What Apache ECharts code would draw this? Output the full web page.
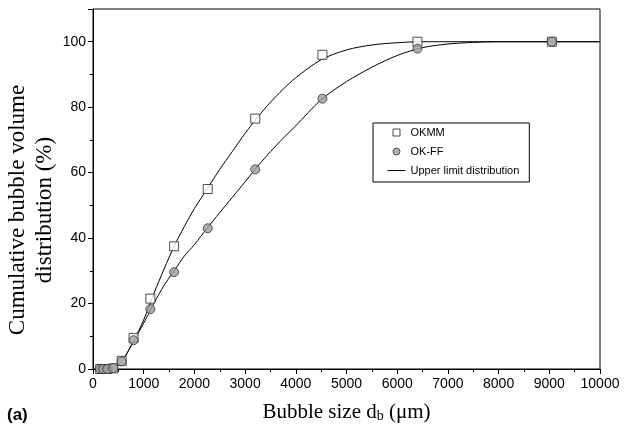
<!DOCTYPE html>
<html>
<head>
<meta charset="utf-8">
<script src="https://cdn.jsdelivr.net/npm/echarts@6/dist/echarts.min.js"></script>
<style>
  html, body { margin: 0; padding: 0; background: #fff; }
  #chart { width: 624px; height: 429px; }
</style>
</head>
<body>
<div id="chart"></div>
<script>
// measured bubble sizes (um), sqrt(2) classes
const bubbleSizes = [141, 200, 283, 400, 566, 800, 1131, 1600, 2263, 3200, 4525, 6400, 9051];
const okmmValues  = [0, 0, 0, 0.2, 2.5, 9.5, 21.5, 37.5, 55, 76.5, 96, 100, 100];
const okffValues  = [0, 0, 0, 0.3, 2.3, 8.8, 18.3, 29.6, 43, 61, 82.6, 97.9, 100];

// upper limit distribution curves
const okmmFitX = [300, 400, 500, 600, 800, 1000, 1200, 1400, 1600, 1800, 2000, 2250, 2500, 2750, 3000, 3250, 3500, 3750, 4000, 4500, 5000, 5500, 6000, 6500, 10000];
const okmmFitY = [0, 0.5, 1.5, 3, 8.5, 15, 23, 30.5, 37.5, 43.5, 49, 55, 61, 66.5, 72, 77, 81.5, 85.5, 89, 94.5, 97.5, 99, 99.7, 100, 100];
const okffFitX = [300, 400, 500, 600, 800, 1000, 1200, 1400, 1600, 1800, 2000, 2250, 2500, 2750, 3000, 3250, 3500, 3750, 4000, 4500, 5000, 5500, 6000, 6500, 7000, 7500, 8000, 10000];
const okffFitY = [0, 0.5, 1.5, 3, 8.5, 14, 20, 25.5, 30, 34.5, 38, 43, 47.8, 52.5, 57.2, 62, 66.4, 70.5, 74.3, 82.3, 87.8, 92.2, 95.8, 98.2, 99.3, 99.8, 100, 100];

const pairs = (xs, ys) => xs.map((x, i) => [x, ys[i]]);

const chart = echarts.init(document.getElementById('chart'));

const sansFont = '"Liberation Sans", Arial, sans-serif';
const serifFont = '"Liberation Serif", "Times New Roman", serif';

const option = {
    animation: false,
    grid: {
        left: 93, right: 24, top: 9, bottom: 60,
        show: true, borderColor: '#000', borderWidth: 1,
        outerBoundsMode: 'none'
    },
    legend: {
        orient: 'vertical',
        left: 373, top: 123,
        padding: [4, 10, 6, 14],
        itemGap: 8,
        itemWidth: 18, itemHeight: 7,
        borderColor: '#000', borderWidth: 1,
        backgroundColor: '#fff',
        textStyle: { fontFamily: sansFont, fontSize: 11, color: '#000' },
        data: [
            { name: 'OKMM', icon: 'path://M0,0M18,7M5.5,0H12.5V7H5.5Z', itemStyle: { borderWidth: 1, borderColor: '#222' } },
            { name: 'OK-FF', icon: 'circle', itemStyle: { borderWidth: 1, borderColor: '#333' } },
            { name: 'Upper limit distribution', icon: 'path://M0,3H18V4H0Z' }
        ]
    },
    xAxis: {
        type: 'value',
        min: 0, max: 10000, interval: 1000,
        name: 'Bubble size d{sub|b} (μm)',
        nameLocation: 'middle',
        nameGap: 32,
        nameTextStyle: {
            fontFamily: serifFont, fontSize: 21, color: '#000',
            rich: { sub: { fontFamily: serifFont, fontSize: 14, verticalAlign: 'bottom', padding: [8, 0, 0, 0] } }
        },
        axisLine: { lineStyle: { color: '#000', width: 1 } },
        axisTick: { show: true, inside: false, length: 5, lineStyle: { color: '#000' } },
        minorTick: { show: true, splitNumber: 2, length: 3, lineStyle: { color: '#000' } },
        axisLabel: {
            fontFamily: sansFont, fontSize: 14, color: '#000', margin: 8,
            formatter: v => String(v)
        },
        splitLine: { show: false }
    },
    yAxis: {
        type: 'value',
        min: 0, max: 110, interval: 20,
        axisLine: { show: true, lineStyle: { color: '#000', width: 1 } },
        axisTick: { show: true, inside: false, length: 5, lineStyle: { color: '#000' } },
        minorTick: { show: true, splitNumber: 2, length: 3, lineStyle: { color: '#000' } },
        axisLabel: {
            fontFamily: sansFont, fontSize: 14, color: '#000', margin: 7,
            formatter: v => (v > 100 ? '' : String(v))
        },
        splitLine: { show: false }
    },
    graphic: [
        {
            type: 'text',
            x: 31, y: 210,
            rotation: Math.PI / 2,
            style: {
                text: 'Cumulative bubble volume\ndistribution (%)',
                font: '23px ' + serifFont,
                fill: '#000',
                align: 'center',
                verticalAlign: 'middle',
                lineHeight: 27
            }
        },
        {
            type: 'text',
            left: 7, top: 407,
            style: { text: '(a)', font: 'bold 17px ' + sansFont, fill: '#000' }
        }
    ],
    series: [
        {
            name: 'Upper limit distribution',
            type: 'line',
            data: pairs(okmmFitX, okmmFitY),
            smooth: 0.3,
            symbol: 'none',
            lineStyle: { color: '#000', width: 1 },
            itemStyle: { color: '#000' },
            z: 2
        },
        {
            name: 'Upper limit distribution',
            type: 'line',
            data: pairs(okffFitX, okffFitY),
            smooth: 0.3,
            symbol: 'none',
            lineStyle: { color: '#000', width: 1 },
            itemStyle: { color: '#000' },
            z: 2
        },
        {
            name: 'OKMM',
            type: 'scatter',
            data: pairs(bubbleSizes, okmmValues),
            symbol: 'rect',
            symbolSize: 9,
            itemStyle: { color: '#fff', borderColor: '#222', borderWidth: 1 },
            z: 3
        },
        {
            name: 'OK-FF',
            type: 'scatter',
            data: pairs(bubbleSizes, okffValues),
            symbol: 'circle',
            symbolSize: 9,
            itemStyle: { color: '#9c9c9c', borderColor: '#333', borderWidth: 1 },
            z: 4
        }
    ]
};

chart.setOption(option);
</script>
</body>
</html>
